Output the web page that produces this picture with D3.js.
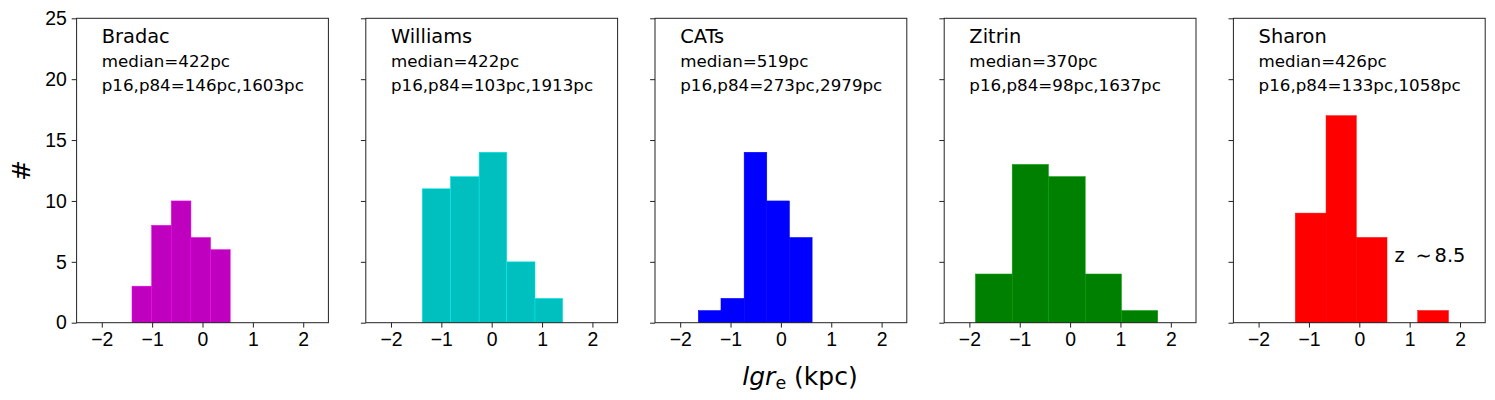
<!DOCTYPE html>
<html>
<head>
<meta charset="utf-8">
<script src="https://cdn.jsdelivr.net/npm/d3@7"></script>
<style>
  body { margin: 0; background: #fff; }
  svg { font-family: "DejaVu Sans", sans-serif; }
  .axis path, .axis line { stroke: #222; }
  .axis text { font-size: 19.4px; fill: #000; }
</style>
</head>
<body>
<svg id="fig" width="1495" height="400"></svg>
<script>
// survey names and colours
const surveys = ["Bradac", "Williams", "CATs", "Zitrin", "Sharon"];
const colors = ["#bf00bf", "#00bfbf", "#0000ff", "#008000", "#ff0000"];

// size stats (pc)
const medians = [422, 422, 519, 370, 426];
const p16 = [146, 103, 273, 98, 133];
const p84 = [1603, 1913, 2979, 1637, 1058];

// histogram bin edges (lg re, kpc) and counts
const binEdges = [
    [-1.40, -1.01, -0.62, -0.23, 0.16, 0.55],
    [-1.38, -0.82, -0.25, 0.30, 0.86, 1.41],
    [-1.64, -1.19, -0.73, -0.28, 0.17, 0.62],
    [-1.88, -1.15, -0.43, 0.30, 1.02, 1.74],
    [-1.27, -0.66, -0.06, 0.55, 1.16, 1.77]
];
const counts = [
    [3, 8, 10, 7, 6],
    [11, 12, 14, 5, 2],
    [1, 2, 14, 10, 7],
    [4, 13, 12, 4, 1],
    [9, 17, 7, 0, 1]
];

const xTicks = [-2, -1, 0, 1, 2];
const yTicks = [0, 5, 10, 15, 20, 25];

const svg = d3.select("#fig");
const left0 = 76.6, step = 289.2, pw = 251.8;
const plotTop = 18.3, plotBottom = 322.7;

const x = d3.scaleLinear().domain([-2.5, 2.5]).range([0, pw]);
const y = d3.scaleLinear().domain([0, 25]).range([plotBottom, plotTop]);
const fmt = d => d < 0 ? "\u2212" + Math.abs(d) : String(d);

surveys.forEach((name, i) => {
    const g = svg.append("g").attr("transform", "translate(" + (left0 + i * step) + ",0)");

    const bins = counts[i].map((c, j) => ({ x0: binEdges[i][j], x1: binEdges[i][j + 1], n: c }));

    // bars
    g.selectAll("rect.bar")
        .data(bins.filter(b => b.n > 0))
        .enter().append("rect")
        .attr("class", "bar")
        .attr("x", d => x(d.x0))
        .attr("width", d => x(d.x1) - x(d.x0))
        .attr("y", d => y(d.n))
        .attr("height", d => y(0) - y(d.n))
        .attr("fill", colors[i])
        .attr("stroke", d3.color(colors[i]).brighter(0.6))
        .attr("stroke-width", 0.5);

    // axes
    g.append("g").attr("class", "axis")
        .attr("transform", "translate(0," + plotBottom + ")")
        .call(d3.axisBottom(x).tickValues(xTicks).tickFormat(fmt).tickSize(4.9).tickPadding(4.9));
    g.append("g").attr("class", "axis")
        .call(d3.axisLeft(y).tickValues(yTicks).tickSize(4.9).tickPadding(4.9)
            .tickFormat(i === 0 ? d3.format("d") : () => ""));
    g.selectAll(".axis .domain").remove();

    // frame
    g.append("rect")
        .attr("x", 0).attr("y", plotTop)
        .attr("width", pw).attr("height", plotBottom - plotTop)
        .attr("fill", "none").attr("stroke", "#222").attr("stroke-width", 1);

    // annotations
    g.append("text").attr("x", x(-2)).attr("y", y(23))
        .attr("font-size", "19.4px").text(name);
    g.append("text").attr("x", x(-2)).attr("y", y(21))
        .attr("font-size", "16.7px").text("median=" + medians[i] + "pc");
    g.append("text").attr("x", x(-2)).attr("y", y(19))
        .attr("font-size", "16.7px").text("p16,p84=" + p16[i] + "pc," + p84[i] + "pc");

    if (name === "Sharon") {
        const t = g.append("text").attr("x", x(0.7)).attr("y", y(5)).attr("font-size", "19.4px");
        t.append("tspan").text("z");
        t.append("tspan").attr("dx", "0.55em").text("\u223c");
        t.append("tspan").attr("dx", "0.15em").text("8.5");
    }
});

// y label
svg.append("text")
    .attr("transform", "translate(30,170.5) rotate(-90)")
    .attr("text-anchor", "middle")
    .attr("font-size", "25px")
    .text("#");

// x label
const xl = svg.append("text")
    .attr("x", 800).attr("y", 385)
    .attr("text-anchor", "middle")
    .attr("font-size", "25px");
xl.append("tspan").attr("font-style", "italic").text("lgr");
xl.append("tspan").attr("font-size", "17.5px").attr("dy", 4).text("e");
xl.append("tspan").attr("dy", -4).text(" (kpc)");
</script>
</body>
</html>
